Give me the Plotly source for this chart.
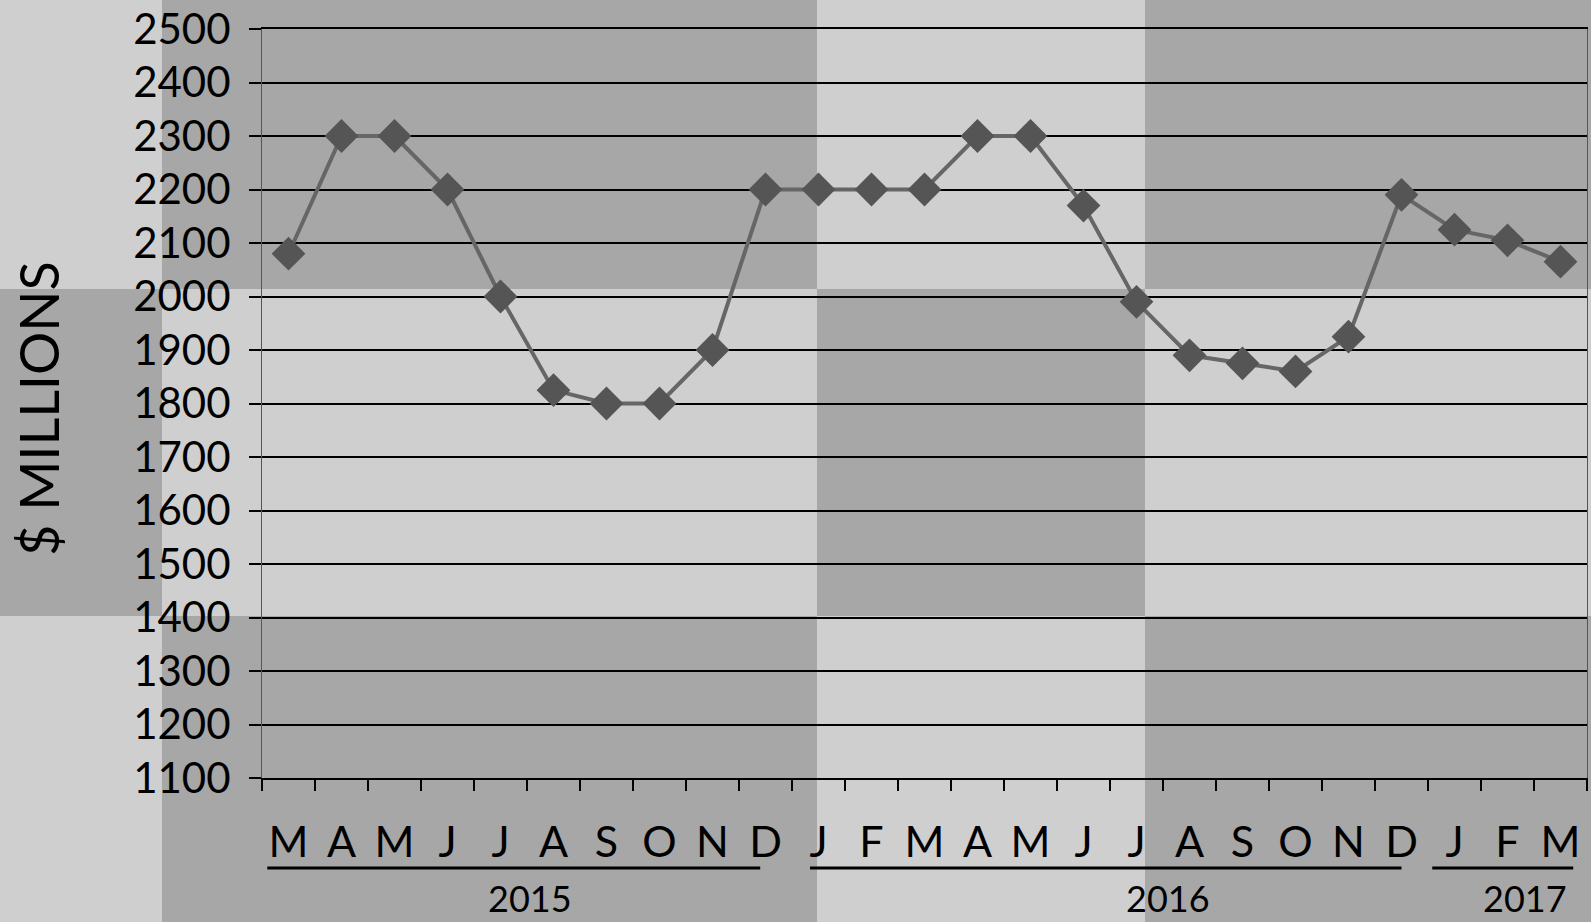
import plotly.graph_objects as go

# Monthly values, March 2015 – March 2017 ($ millions)
months = ["M", "A", "M", "J", "J", "A", "S", "O", "N", "D",
          "J", "F", "M", "A", "M", "J", "J", "A", "S", "O", "N", "D",
          "J", "F", "M"]
values = [2080, 2300, 2300, 2200, 2000, 1825, 1800, 1800, 1900, 2200,
          2200, 2200, 2200, 2300, 2300, 2170, 1990, 1890, 1875, 1860, 1925, 2190,
          2125, 2105, 2065]
years = ["2015", "2016", "2017"]
y_ticks = list(range(1100, 2501, 100))

W, H = 1591, 922
L, R, T, B = 262, 4, 29, 144
PW, PH = W - L - R, H - T - B

FONT = "Lato"
LIGHT = "#cfcfcf"
DARK = "#a7a7a7"

x = list(range(len(months)))


def px_x(p):
    return (p - L) / PW


def px_y(p):
    return (H - B - p) / PH


fig = go.Figure()
fig.add_trace(go.Scatter(
    x=x, y=values, mode="lines+markers",
    line=dict(color="#666666", width=4),
    marker=dict(symbol="diamond", size=26, color="#555555"),
    cliponaxis=False, hoverinfo="skip",
))

# checkerboard background panels (pixel edges)
cols = [0, 162, 817, 1145, W]
rows = [0, 289, 616, H]
shapes = []
for ci in range(len(cols) - 1):
    for ri in range(len(rows) - 1):
        if (ci + ri) % 2 == 1:
            shapes.append(dict(
                type="rect", xref="paper", yref="paper", layer="below",
                x0=px_x(cols[ci]), x1=px_x(cols[ci + 1]),
                y0=px_y(rows[ri + 1]), y1=px_y(rows[ri]),
                fillcolor=DARK, line=dict(width=0)))

# year underlines beneath the month letters
spans = [(-0.4, 8.9), (9.84, 21.0), (21.58, 24.24)]
for a, b in spans:
    shapes.append(dict(type="line", xref="x", yref="paper",
                       x0=a, x1=b, y0=px_y(868), y1=px_y(868),
                       line=dict(color="black", width=3)))

year_x = [4.56, 16.6, 23.33]
annotations = [dict(text=t, x=xx, xref="x", y=px_y(898), yref="paper",
                    showarrow=False, font=dict(family=FONT, size=36, color="black"),
                    xanchor="center", yanchor="middle")
               for t, xx in zip(years, year_x)]
annotations.append(dict(text="$ MILLIONS", textangle=-90,
                        x=px_x(38), xref="paper", y=px_y(408), yref="paper",
                        showarrow=False, xanchor="center", yanchor="middle",
                        font=dict(family=FONT, size=54, color="black")))

fig.update_layout(
    width=W, height=H,
    margin=dict(l=L, r=R, t=T, b=B),
    paper_bgcolor=LIGHT, plot_bgcolor="rgba(0,0,0,0)",
    showlegend=False,
    shapes=shapes, annotations=annotations,
    xaxis=dict(
        range=[-0.5, len(months) - 0.5],
        tickmode="array", tickvals=x, ticktext=months,
        ticks="", showgrid=False, zeroline=False,
        tickfont=dict(family=FONT, size=43, color="black"),
        ticklabelstandoff=25,
        showline=True, mirror=True, linecolor="black", linewidth=1.8,
        minor=dict(tick0=-0.5, dtick=1, ticks="outside", ticklen=11,
                   tickcolor="black", tickwidth=1.5, showgrid=False),
    ),
    yaxis=dict(
        range=[1100, 2500], tickmode="array", tickvals=y_ticks,
        showgrid=True, gridcolor="black", gridwidth=1.8,
        ticks="outside", ticklen=12, tickcolor="black", tickwidth=1.8,
        tickfont=dict(family=FONT, size=42, color="black"),
        ticklabelstandoff=10, ticklabeloverflow="allow",
        zeroline=False, showline=True, linecolor="#555555", linewidth=1,
        mirror=True,
    ),
)

fig.write_html("out.html")
